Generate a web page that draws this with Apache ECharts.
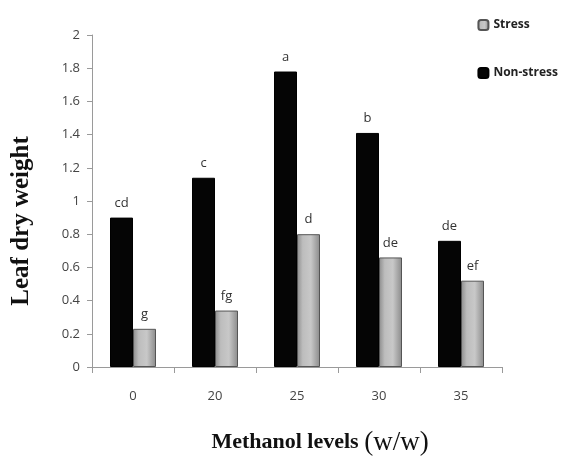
<!DOCTYPE html>
<html>
<head>
<meta charset="utf-8">
<script src="https://cdn.jsdelivr.net/npm/echarts@6/dist/echarts.min.js"></script>
<style>
html,body{margin:0;padding:0;background:#fff;}
#chart{width:571px;height:461px;}
</style>
</head>
<body>
<div id="chart"></div>
<script>
var categories = ['0', '20', '25', '30', '35'];
var nonStress = [0.90, 1.14, 1.78, 1.41, 0.76];
var stress = [0.23, 0.34, 0.80, 0.66, 0.52];
var nonStressLetters = ['cd', 'c', 'a', 'b', 'de'];
var stressLetters = ['g', 'fg', 'd', 'de', 'ef'];

var myChart = echarts.init(document.getElementById('chart'));

function letterLabel(letters) {
  return {
    show: true,
    position: 'top',
    distance: 8,
    color: '#333',
    fontFamily: 'Open Sans',
    fontSize: 13,
    formatter: function (p) { return letters[p.dataIndex]; }
  };
}

var option = {
  animation: false,
  backgroundColor: '#fff',
  grid: { left: 92, right: 69, top: 35, bottom: 88 },
  legend: {
    orient: 'vertical',
    right: 8,
    top: 14,
    itemGap: 36,
    itemWidth: 10,
    itemHeight: 10,
    textStyle: { fontFamily: 'Open Sans', fontWeight: 'bold', fontSize: 12, color: '#222' },
    data: ['Stress', 'Non-stress']
  },
  xAxis: {
    type: 'category',
    data: categories,
    name: '{b|Methanol levels }{n|(w/w)}',
    nameLocation: 'middle',
    nameGap: 62,
    nameTextStyle: {
      padding: [0, 0, 0, 46],
      rich: {
        b: { fontFamily: 'Liberation Serif', fontWeight: 'bold', fontSize: 22, color: '#111' },
        n: { fontFamily: 'Liberation Serif', fontSize: 27, color: '#111' }
      }
    },
    axisLine: { lineStyle: { color: '#9a9a9a', width: 1 } },
    axisTick: { show: true, length: 6, lineStyle: { color: '#9a9a9a' } },
    axisLabel: { color: '#444', fontFamily: 'Open Sans', fontSize: 13, margin: 23 }
  },
  yAxis: {
    type: 'value',
    min: 0,
    max: 2,
    interval: 0.2,
    name: 'Leaf dry weight',
    nameLocation: 'middle',
    nameGap: 58,
    nameTextStyle: {
      fontFamily: 'Liberation Serif', fontWeight: 'bold', fontSize: 25, color: '#111',
      padding: [0, 40, 0, 0]
    },
    axisLine: { show: true, lineStyle: { color: '#9a9a9a', width: 1 } },
    axisTick: { show: true, length: 5, lineStyle: { color: '#9a9a9a' } },
    axisLabel: { color: '#444', fontFamily: 'Open Sans', fontSize: 13, margin: 12 },
    splitLine: { show: false }
  },
  series: [
    {
      name: 'Non-stress',
      type: 'bar',
      data: nonStress,
      barWidth: 23,
      barGap: '0%',
      itemStyle: { color: '#050505', borderColor: '#000', borderWidth: 1 },
      label: letterLabel(nonStressLetters)
    },
    {
      name: 'Stress',
      type: 'bar',
      data: stress,
      barWidth: 23,
      itemStyle: {
        color: new echarts.graphic.LinearGradient(0, 0, 1, 0, [
          { offset: 0, color: '#8c8c8c' },
          { offset: 0.25, color: '#bdbdbd' },
          { offset: 0.6, color: '#c8c8c8' },
          { offset: 1, color: '#8a8a8a' }
        ]),
        borderColor: '#555',
        borderWidth: 1
      },
      label: letterLabel(stressLetters)
    }
  ]
};

myChart.setOption(option);
window.addEventListener('resize', function () { myChart.resize(); });
</script>
</body>
</html>
